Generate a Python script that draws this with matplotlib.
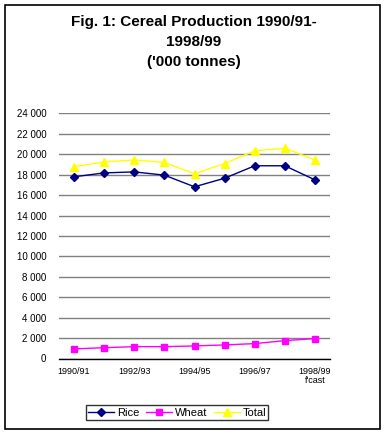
import matplotlib
matplotlib.use("Agg")
import matplotlib.pyplot as plt
from matplotlib.patches import Rectangle
from matplotlib.ticker import FuncFormatter

# ── data ('000 tonnes) ───────────────────────────────────────────────────────
years = ["1990/91", "1991/92", "1992/93", "1993/94", "1994/95",
         "1995/96", "1996/97", "1997/98", "1998/99"]
rice = [17800, 18180, 18280, 17960, 16820, 17660, 18880, 18880, 17500]
wheat = [940, 1060, 1160, 1160, 1230, 1330, 1460, 1750, 1950]
total = [18800, 19250, 19450, 19200, 18100, 19100, 20350, 20600, 19450]
tick_labels = ["1990/91", "", "1992/93", "", "1994/95", "", "1996/97", "", "1998/99\nf'cast"]

plt.rcParams["font.family"] = ["Liberation Sans", "DejaVu Sans"]

fig = plt.figure(figsize=(3.88, 4.34), dpi=100)
fig.patch.set_facecolor("white")

# outer frame
fig.patches.append(Rectangle((5 / 388, 1 - 429 / 434), 375 / 388, 424 / 434,
                             transform=fig.transFigure, fill=False,
                             edgecolor="black", linewidth=1.2))

fig.text(0.5, 1 - 15 / 434, "Fig. 1: Cereal Production 1990/91-\n1998/99\n('000 tonnes)",
         ha="center", va="top", fontsize=11, fontweight="bold", linespacing=1.55)

ax = fig.add_axes([59 / 388, 1 - 358.5 / 434, 271 / 388, 245 / 434])
x = range(len(years))
ax.plot(x, rice, color="#000080", marker="D", markersize=4.5, linewidth=1, label="Rice")
ax.plot(x, wheat, color="#FF00FF", marker="s", markersize=4.5, linewidth=1, label="Wheat")
ax.plot(x, total, color="#FFFF00", marker="^", markersize=5.5, linewidth=1, label="Total")

ax.set_xlim(-0.5, len(years) - 0.5)
ax.set_ylim(0, 24000)
ax.set_yticks(range(0, 24001, 2000))
ax.yaxis.set_major_formatter(FuncFormatter(lambda v, p: f"{int(v):,}".replace(",", " ")))
ax.set_xticks(list(x))
ax.set_xticklabels(tick_labels, fontsize=6.5, linespacing=1.0)
ax.tick_params(axis="y", length=0, labelsize=7, pad=9)
ax.tick_params(axis="x", length=0, pad=6)
ax.grid(axis="y", color="#808080", linewidth=1)
ax.set_axisbelow(True)
for s in ("left", "right", "top"):
    ax.spines[s].set_visible(False)
ax.spines["bottom"].set_color("black")
ax.spines["bottom"].set_linewidth(1)
ax.spines["bottom"].set_zorder(3)

leg = fig.legend(loc="center", bbox_to_anchor=(177 / 388, 1 - 412.5 / 434), ncol=3,
                 fontsize=8, frameon=True, fancybox=False, edgecolor="black",
                 handlelength=2.4, handletextpad=0.2, columnspacing=0.6,
                 borderpad=0.2, borderaxespad=0)
leg.get_frame().set_linewidth(1)

fig.savefig("out.png", dpi=100)
